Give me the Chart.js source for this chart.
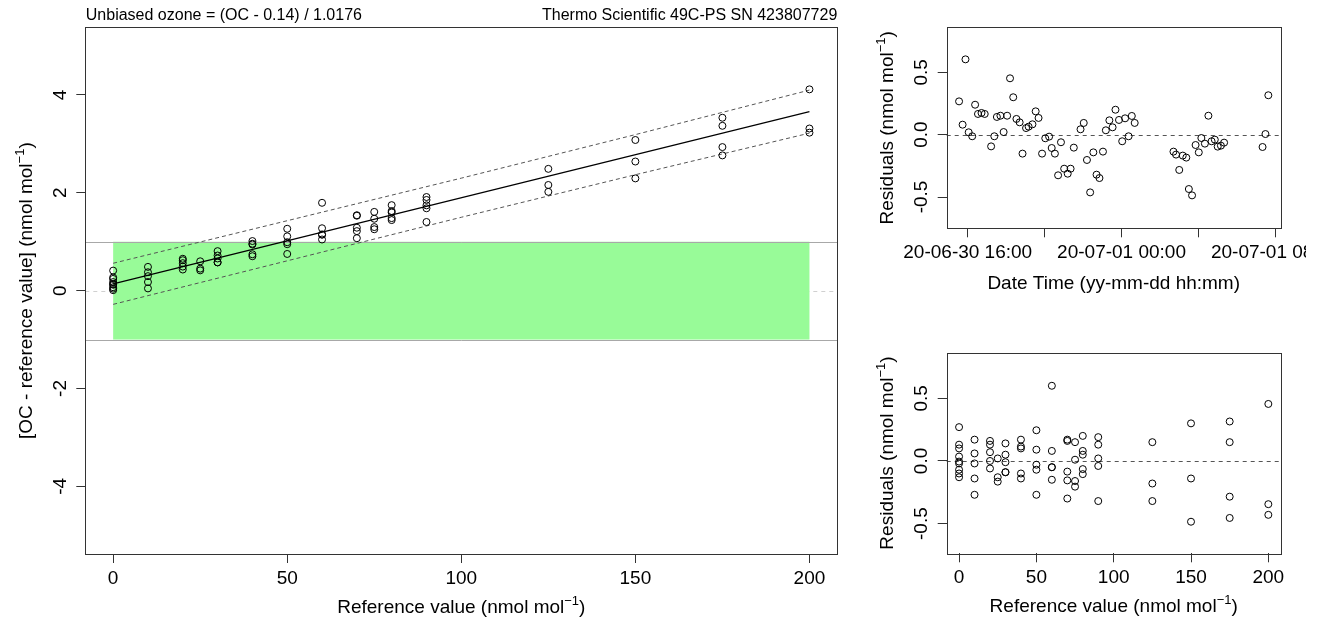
<!DOCTYPE html>
<html>
<head>
<meta charset="utf-8">
<script src="https://cdn.jsdelivr.net/npm/chart.js@4.4.1/dist/chart.umd.min.js"></script>
<style>
  html, body { margin: 0; padding: 0; background: #fff; }
  body { width: 1321px; height: 618px; position: relative; overflow: hidden; }
  canvas { position: absolute; display: block; }
  #mainChart { left: 0; top: 0; }
  #timeChart { left: 850px; top: 0; }
  #refChart { left: 850px; top: 310px; }
</style>
</head>
<body>
<canvas id="mainChart" width="850" height="618"></canvas>
<canvas id="timeChart" width="456" height="310"></canvas>
<canvas id="refChart" width="471" height="308"></canvas>
<script>
// Calibration fit: OC = intercept + slope * reference
const intercept = 0.14;
const slope = 1.0176;

// Reference levels, one per measurement
const refValues = [
  0, 0, 0, 0, 0, 0, 0, 0, 0,
  10, 10, 10, 10, 10,
  20, 20, 20, 20, 20,
  25, 25, 25,
  30, 30, 30, 30, 30,
  40, 40, 40, 40, 40,
  50, 50, 50, 50, 50,
  60, 60, 60, 60, 60,
  70, 70, 70, 70, 70,
  75, 75, 75, 75,
  80, 80, 80, 80, 80,
  90, 90, 90, 90, 90,
  125, 125, 125,
  150, 150, 150,
  175, 175, 175, 175,
  200, 200, 200
];
// Residuals from the fit, same order as refValues
const refResiduals = [
  0.27, 0.13, 0.10, 0.035, -0.005, -0.02, -0.07, -0.10, -0.13,
  0.17, 0.06, -0.02, -0.14, -0.27,
  0.16, 0.13, 0.07, 0.00, -0.06,
  0.02, -0.13, -0.165,
  0.14, 0.05, -0.01, -0.09, -0.09,
  0.17, 0.115, 0.10, -0.10, -0.14,
  0.245, 0.09, -0.03, -0.07, -0.27,
  0.60, 0.08, -0.05, -0.05, -0.15,
  0.17, 0.16, -0.085, -0.155, -0.30,
  0.15, 0.01, -0.16, -0.205,
  0.20, 0.08, 0.05, -0.065, -0.105,
  0.19, 0.13, 0.02, -0.04, -0.32,
  0.15, -0.18, -0.32,
  0.30, -0.14, -0.485,
  0.315, 0.15, -0.285, -0.455,
  0.455, -0.345, -0.43
];

// Measurement times (UTC) and residuals in time order
const sampleTimes = [
  "2020-06-30 15:33", "2020-06-30 15:44", "2020-06-30 15:53", "2020-06-30 16:03", "2020-06-30 16:14",
  "2020-06-30 16:23", "2020-06-30 16:32", "2020-06-30 16:43", "2020-06-30 16:53", "2020-06-30 17:13",
  "2020-06-30 17:23", "2020-06-30 17:31", "2020-06-30 17:42", "2020-06-30 17:52", "2020-06-30 18:03",
  "2020-06-30 18:12", "2020-06-30 18:22", "2020-06-30 18:32", "2020-06-30 18:42", "2020-06-30 18:51",
  "2020-06-30 19:02", "2020-06-30 19:10", "2020-06-30 19:22", "2020-06-30 19:32", "2020-06-30 19:41",
  "2020-06-30 19:52", "2020-06-30 20:02", "2020-06-30 20:14", "2020-06-30 20:22", "2020-06-30 20:32",
  "2020-06-30 20:42", "2020-06-30 20:51", "2020-06-30 21:01", "2020-06-30 21:12", "2020-06-30 21:21",
  "2020-06-30 21:31", "2020-06-30 21:52", "2020-06-30 22:02", "2020-06-30 22:12", "2020-06-30 22:22",
  "2020-06-30 22:32", "2020-06-30 22:42", "2020-06-30 22:51", "2020-06-30 23:02", "2020-06-30 23:11",
  "2020-06-30 23:22", "2020-06-30 23:32", "2020-06-30 23:41", "2020-06-30 23:52", "2020-07-01 00:02",
  "2020-07-01 00:11", "2020-07-01 00:22", "2020-07-01 00:32", "2020-07-01 00:41", "2020-07-01 02:42",
  "2020-07-01 02:50", "2020-07-01 03:00", "2020-07-01 03:11", "2020-07-01 03:22", "2020-07-01 03:30",
  "2020-07-01 03:40", "2020-07-01 03:51", "2020-07-01 04:01", "2020-07-01 04:09", "2020-07-01 04:20",
  "2020-07-01 04:31", "2020-07-01 04:41", "2020-07-01 04:51", "2020-07-01 05:00", "2020-07-01 05:10",
  "2020-07-01 05:20", "2020-07-01 07:20", "2020-07-01 07:29", "2020-07-01 07:38"
];
const timeResiduals = [
  0.267, 0.08, 0.604, 0.019, -0.013, 0.24, 0.166, 0.174, 0.166, -0.094,
  -0.013, 0.142, 0.152, 0.021, 0.152, 0.452, 0.30, 0.126, 0.099, -0.152,
  0.053, 0.064, 0.083, 0.187, 0.134, -0.152, -0.029, -0.016, -0.107, -0.152,
  -0.326, -0.061, -0.273, -0.313, -0.273, -0.104, 0.043, 0.094, -0.203, -0.463,
  -0.142, -0.321, -0.348, -0.136, 0.035, 0.115, 0.059, 0.20, 0.118, -0.053,
  0.131, -0.013, 0.15, 0.094, -0.136, -0.160, -0.283, -0.168, -0.184, -0.436,
  -0.487, -0.083, -0.142, -0.027, -0.072, 0.152, -0.053, -0.040, -0.096, -0.088,
  -0.064, -0.099, 0.005, 0.316
];

// Prediction band around the fit
const bandRef = [0, 50, 100, 150, 200];
const bandUpper = [0.56, 1.43, 2.30, 3.19, 4.10];
const bandLower = [-0.28, 0.61, 1.50, 2.37, 3.22];

// Tolerance zone (+/- 1 nmol/mol over the calibrated range)
const tolerance = 1;
const toleranceRange = [0, 200];

// Axis ticks
const refTicks = [0, 50, 100, 150, 200];
const diffTicks = [-4, -2, 0, 2, 4];
const residTicks = [-0.5, 0, 0.5];
const timeTicks = ["2020-06-30 16:00", "2020-06-30 20:00", "2020-07-01 00:00", "2020-07-01 04:00", "2020-07-01 08:00"];

const headerLeft = "Unbiased ozone = (OC - 0.14) / 1.0176";
const headerRight = "Thermo Scientific 49C-PS SN 423807729";

const FONT = '"Liberation Sans", Arial, Helvetica, sans-serif';
const LAB = 19;
const INK = "#000";
const FRAME = "#333";

const toMs = s => Date.parse(s.replace(" ", "T") + ":00Z");
const two = n => String(n).padStart(2, "0");
const fmtTime = ms => {
  const d = new Date(ms);
  return `${two(d.getUTCFullYear() % 100)}-${two(d.getUTCMonth() + 1)}-${two(d.getUTCDate())} ${two(d.getUTCHours())}:${two(d.getUTCMinutes())}`;
};
// R-style axis limits: data range widened by 4% on both sides
const extRange = arr => {
  const lo = Math.min(...arr), hi = Math.max(...arr), p = 0.04 * (hi - lo);
  return [lo - p, hi + p];
};

const fitAt = x => intercept + (slope - 1) * x;
const diffs = refValues.map((x, i) => fitAt(x) + refResiduals[i]);
const times = sampleTimes.map(toMs);
const [refMin, refMax] = extRange(refValues);
const [timeMin, timeMax] = extRange(times);

const circles = {
  pointStyle: "circle",
  pointRadius: 3.5,
  pointBorderWidth: 1,
  pointBorderColor: INK,
  pointBackgroundColor: "rgba(0,0,0,0)",
  showLine: false
};

function fixedTicks(values) {
  return scale => { scale.ticks = values.map(v => ({ value: v })); };
}

function xAxis(min, max, ticks, height, extra) {
  return Object.assign({
    type: "linear",
    min, max,
    afterBuildTicks: fixedTicks(ticks),
    afterFit: s => { s.height = height; s.paddingLeft = 0; s.paddingRight = 0; },
    grid: { drawOnChartArea: false, drawTicks: true, tickLength: 9, color: FRAME },
    border: { display: false },
    ticks: { color: INK, font: { family: FONT, size: LAB }, padding: 4, maxRotation: 0, autoSkip: false }
  }, extra || {});
}

function yAxis(min, max, ticks, width) {
  return {
    type: "linear",
    min, max,
    afterBuildTicks: fixedTicks(ticks),
    afterFit: s => { s.width = width; s.paddingTop = 0; s.paddingBottom = 0; },
    grid: { drawOnChartArea: false, drawTicks: true, tickLength: 9, color: FRAME },
    border: { display: false },
    ticks: { display: false }
  };
}

// Text with a raised "-1" unit exponent, centred on (0, 0) along its baseline
function unitText(ctx, parts, x, y, rotate) {
  const big = `${LAB}px ${FONT}`;
  const small = `${Math.round(LAB * 0.7)}px ${FONT}`;
  ctx.save();
  ctx.translate(x, y);
  if (rotate) ctx.rotate(-Math.PI / 2);
  ctx.fillStyle = INK;
  ctx.textBaseline = "alphabetic";
  ctx.textAlign = "left";
  ctx.font = big;
  const w0 = ctx.measureText(parts[0]).width;
  const w2 = ctx.measureText(parts[2]).width;
  ctx.font = small;
  const w1 = ctx.measureText(parts[1]).width;
  let cx = -(w0 + w1 + w2) / 2;
  ctx.font = big;
  ctx.fillText(parts[0], cx, 0);
  cx += w0;
  ctx.font = small;
  ctx.fillText(parts[1], cx, -LAB * 0.42);
  cx += w1;
  ctx.font = big;
  ctx.fillText(parts[2], cx, 0);
  ctx.restore();
}

function plainText(ctx, text, x, y, align) {
  ctx.save();
  ctx.font = `${LAB}px ${FONT}`;
  ctx.fillStyle = INK;
  ctx.textAlign = align || "center";
  ctx.textBaseline = "alphabetic";
  ctx.fillText(text, x, y);
  ctx.restore();
}

function drawBox(chart) {
  const { ctx, chartArea: a } = chart;
  ctx.save();
  ctx.strokeStyle = FRAME;
  ctx.lineWidth = 1;
  ctx.strokeRect(Math.round(a.left) + 0.5, Math.round(a.top) + 0.5,
    Math.round(a.right - a.left), Math.round(a.bottom - a.top));
  ctx.restore();
}

// y tick labels run along the axis, like base R graphics
function drawYLabels(chart, values, fmt) {
  const { ctx, chartArea: a, scales: { y } } = chart;
  ctx.save();
  ctx.font = `${LAB}px ${FONT}`;
  ctx.fillStyle = INK;
  ctx.textAlign = "center";
  ctx.textBaseline = "alphabetic";
  values.forEach(v => {
    ctx.save();
    ctx.translate(a.left - 19.5, y.getPixelForValue(v));
    ctx.rotate(-Math.PI / 2);
    ctx.fillText(fmt(v), 0, 0);
    ctx.restore();
  });
  ctx.restore();
}

function hLine(chart, value, color, dash) {
  const { ctx, chartArea: a, scales: { y } } = chart;
  const py = Math.round(y.getPixelForValue(value)) + 0.5;
  ctx.save();
  ctx.strokeStyle = color;
  ctx.lineWidth = 1;
  ctx.setLineDash(dash || []);
  ctx.beginPath();
  ctx.moveTo(a.left, py);
  ctx.lineTo(a.right, py);
  ctx.stroke();
  ctx.restore();
}

const unitSup = "\u22121";

const mainDecor = {
  id: "mainDecor",
  beforeDatasetsDraw(chart) {
    const { ctx, scales: { x, y } } = chart;
    hLine(chart, 0, "#d0d0d0", [4, 4]);
    const x0 = x.getPixelForValue(toleranceRange[0]);
    const x1 = x.getPixelForValue(toleranceRange[1]);
    const yTop = y.getPixelForValue(tolerance);
    const yBot = y.getPixelForValue(-tolerance);
    ctx.save();
    ctx.fillStyle = "#98FB98";
    ctx.fillRect(x0, yTop, x1 - x0, yBot - yTop);
    ctx.restore();
    hLine(chart, tolerance, "#a8a8a8");
    hLine(chart, -tolerance, "#a8a8a8");
  },
  afterDraw(chart) {
    const { ctx, chartArea: a } = chart;
    drawBox(chart);
    drawYLabels(chart, diffTicks, v => String(v));
    unitText(ctx, ["Reference value (nmol mol", unitSup, ")"], (a.left + a.right) / 2, a.bottom + 58.5, false);
    unitText(ctx, ["[OC - reference value] (nmol mol", unitSup, ")"], a.left - 53.5, (a.top + a.bottom) / 2, true);
    ctx.save();
    ctx.font = `16px ${FONT}`;
    ctx.fillStyle = INK;
    ctx.textBaseline = "alphabetic";
    ctx.textAlign = "left";
    ctx.fillText(headerLeft, a.left + 0.5, 20);
    ctx.textAlign = "right";
    ctx.fillText(headerRight, a.right, 20);
    ctx.restore();
  }
};

function residualDecor(id, xTitle, xTitleOffset) {
  return {
    id,
    beforeDatasetsDraw(chart) {
      hLine(chart, 0, "#555", [4, 4]);
    },
    afterDraw(chart) {
      const { ctx, chartArea: a } = chart;
      drawBox(chart);
      drawYLabels(chart, residTicks, v => v.toFixed(1));
      unitText(ctx, ["Residuals (nmol mol", unitSup, ")"], a.left - 53.5, (a.top + a.bottom) / 2, true);
      if (Array.isArray(xTitle)) {
        unitText(ctx, xTitle, (a.left + a.right) / 2, a.bottom + xTitleOffset, false);
      } else {
        plainText(ctx, xTitle, (a.left + a.right) / 2, a.bottom + xTitleOffset);
      }
    }
  };
}

const quiet = { legend: { display: false }, tooltip: { enabled: false } };

// Main panel: OC - reference vs reference, with fit and prediction band
new Chart(document.getElementById("mainChart"), {
  type: "scatter",
  data: {
    datasets: [
      Object.assign({
        label: "measurements",
        data: refValues.map((x, i) => ({ x, y: diffs[i] })),
        order: 0
      }, circles),
      {
        label: "fit",
        type: "line",
        data: toleranceRange.map(x => ({ x, y: fitAt(x) })),
        borderColor: INK,
        borderWidth: 1.2,
        pointRadius: 0,
        order: 1
      },
      {
        label: "upper",
        type: "line",
        data: bandRef.map((x, i) => ({ x, y: bandUpper[i] })),
        borderColor: "#555",
        borderWidth: 1,
        borderDash: [4, 3],
        pointRadius: 0,
        order: 2
      },
      {
        label: "lower",
        type: "line",
        data: bandRef.map((x, i) => ({ x, y: bandLower[i] })),
        borderColor: "#555",
        borderWidth: 1,
        borderDash: [4, 3],
        pointRadius: 0,
        order: 3
      }
    ]
  },
  options: {
    responsive: false,
    animation: false,
    layout: { padding: { top: 27.3, right: 12.7, left: 0, bottom: 0 } },
    plugins: quiet,
    scales: {
      x: xAxis(refMin, refMax, refTicks, 64),
      y: yAxis(-5.384, 5.384, diffTicks, 85.3)
    }
  },
  plugins: [mainDecor]
});

// Residuals against measurement time (canvas ends before the page edge, so the last date label is cut)
new Chart(document.getElementById("timeChart"), {
  type: "scatter",
  data: {
    datasets: [Object.assign({
      label: "residuals",
      data: times.map((t, i) => ({ x: t, y: timeResiduals[i] }))
    }, circles)]
  },
  options: {
    responsive: false,
    animation: false,
    layout: { padding: { top: 27.3, right: 25.3, left: 0, bottom: 0 } },
    plugins: quiet,
    scales: {
      x: xAxis(timeMin, timeMax, timeTicks.map(toMs), 81.7, {
        ticks: {
          color: INK, font: { family: FONT, size: LAB }, padding: 4, maxRotation: 0, autoSkip: false,
          callback: (v, i) => (i % 2 === 0 ? fmtTime(v) : "")
        }
      }),
      y: yAxis(-0.751, 0.861, residTicks, 96.7)
    }
  },
  plugins: [residualDecor("timeDecor", "Date Time (yy-mm-dd hh:mm)", 61)]
});

// Residuals against reference value
new Chart(document.getElementById("refChart"), {
  type: "scatter",
  data: {
    datasets: [Object.assign({
      label: "residuals",
      data: refValues.map((x, i) => ({ x, y: refResiduals[i] }))
    }, circles)]
  },
  options: {
    responsive: false,
    animation: false,
    layout: { padding: { top: 42.7, right: 40.3, left: 0, bottom: 0 } },
    plugins: quiet,
    scales: {
      x: xAxis(refMin, refMax, refTicks, 64.7),
      y: yAxis(-0.737, 0.864, residTicks, 96.7)
    }
  },
  plugins: [residualDecor("refDecor", ["Reference value (nmol mol", unitSup, ")"], 58.5)]
});
</script>
</body>
</html>
